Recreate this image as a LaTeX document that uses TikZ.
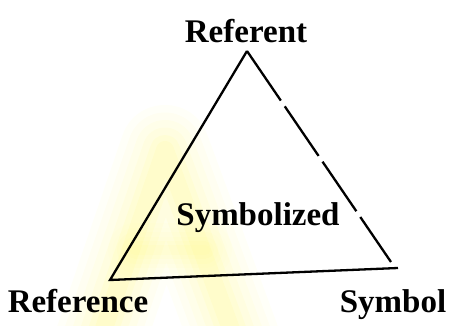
\documentclass[tikz,border=0pt]{standalone}
\usepackage{fontspec}
\setmainfont{Liberation Serif}
\begin{document}
\begin{tikzpicture}[x=1pt,y=-1pt,
  lbl/.style={font=\fontsize{33}{38}\selectfont\bfseries, inner sep=0pt, anchor=base},
  edge/.style={line width=2.3pt, black},
  glow/.style={line cap=round, line join=round, color=yellow!70!white, draw opacity=#1},
]
\useasboundingbox (0,0) rectangle (451,325);
% faint yellow watermark
\foreach \w/\o in {90/0.04, 75/0.04, 60/0.05, 45/0.06, 30/0.07, 18/0.08} {
  \draw[glow=\o, line width=\w pt] (100,340) -- (165,150) -- (235,340);
  \draw[glow=0.6*\o, line width=0.6*\w pt] (135,250) -- (205,250);
}
\coordinate (A) at (247,51);
\coordinate (B) at (110,280);
\coordinate (C) at (398,268);
\coordinate (Cr) at (391,262);
\draw[edge] (A) -- (B) -- (C);
\draw[edge, dash pattern=on 60pt off 7pt] (A) -- (Cr);
\node[lbl] (referent) at (246,42) {Referent};
\node[lbl] (symbolized) at (258,225) {Symbolized};
\node[lbl] (reference) at (78,312) {Reference};
\node[lbl] (symbol) at (393,312) {Symbol};
\end{tikzpicture}
\end{document}
